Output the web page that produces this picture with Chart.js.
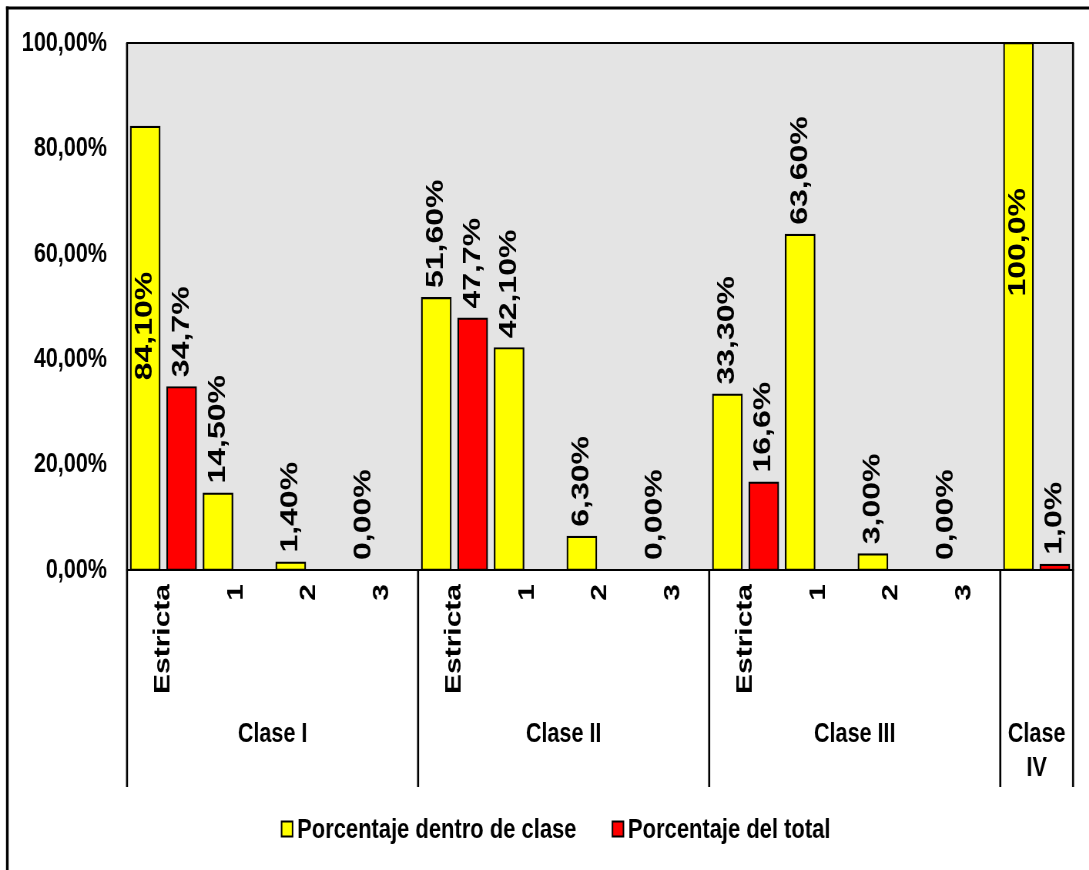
<!DOCTYPE html>
<html>
<head>
<meta charset="utf-8">
<script src="https://cdn.jsdelivr.net/npm/chart.js@4/dist/chart.umd.min.js"></script>
<style>
  html, body { margin: 0; padding: 0; background: #fff; overflow: hidden; width: 1089px; height: 870px; }
  /* the drawing is laid out on a wider canvas and condensed horizontally */
  #wrap { position: absolute; left: 0; top: 0; width: 1414px; height: 870px; transform: scaleX(0.7702); transform-origin: 0 0; }
  canvas { display: block; }
</style>
</head>
<body>
<div id="wrap"><canvas id="chart" width="1414" height="870"></canvas></div>
<script>
// Sub-categories (one bar slot each) and the class groups they belong to
const categories = ['Estricta', '1', '2', '3', 'Estricta', '1', '2', '3', 'Estricta', '1', '2', '3', ''];
const groupNames = [['Clase I'], ['Clase II'], ['Clase III'], ['Clase', 'IV']];
const groupSizes = [4, 4, 4, 1];

// Series values (%)
const dentroDeClase = [84.1, 14.5, 1.4, 0, 51.6, 42.1, 6.3, 0, 33.3, 63.6, 3.0, 0, 100];
const delTotal = [34.7, null, null, null, 47.7, null, null, null, 16.6, null, null, null, 1.0];

const seriesNames = ['Porcentaje dentro de clase', 'Porcentaje del total'];
const seriesColors = ['#ffff00', '#ff0000'];

// Value axis ticks (%)
const yTicks = [0, 20, 40, 60, 80, 100];

const FONT = '"Liberation Sans", Arial, Helvetica, sans-serif';
const SX = 1 / 0.7702; // horizontal widening factor for vertical strokes

function pct(v, decimals) {
  return v.toFixed(decimals).replace('.', ',') + '%';
}
function labelText(v, datasetIndex) {
  if (datasetIndex === 0) return pct(v, v >= 100 ? 1 : 2);
  return pct(v, 1);
}

const framePlugin = {
  id: 'frame',
  beforeDraw(chart) {
    const { ctx, chartArea: a, width, height } = chart;
    ctx.save();
    ctx.fillStyle = '#ffffff';
    ctx.fillRect(0, 0, width, height);
    ctx.fillStyle = '#e4e4e4';
    ctx.fillRect(a.left, a.top, a.right - a.left, a.bottom - a.top);
    ctx.restore();
  },
  afterDatasetsDraw(chart) {
    const { ctx, chartArea: a, scales } = chart;
    const x = scales.x;
    ctx.save();
    ctx.strokeStyle = '#000';
    ctx.lineCap = 'square';
    // horizontal edges of the plot
    ctx.lineWidth = 2;
    ctx.beginPath();
    ctx.moveTo(a.left, a.top); ctx.lineTo(a.right, a.top);
    ctx.moveTo(a.left, a.bottom); ctx.lineTo(a.right, a.bottom);
    ctx.stroke();
    // vertical edges, extended through the category area at group borders
    ctx.lineWidth = 2 * SX;
    ctx.lineCap = 'butt';
    const step = (x.getPixelForValue(1) - x.getPixelForValue(0));
    const lowY = x.bottom;
    ctx.beginPath();
    ctx.moveTo(a.left, a.top); ctx.lineTo(a.left, lowY);
    ctx.moveTo(a.right, a.top); ctx.lineTo(a.right, lowY);
    let idx = 0;
    groupSizes.forEach((n, g) => {
      idx += n;
      if (g < groupSizes.length - 1) {
        const px = x.getPixelForValue(idx) - step / 2;
        ctx.moveTo(px, a.bottom); ctx.lineTo(px, lowY);
      }
    });
    ctx.stroke();

    // group names under the sub-category labels
    ctx.fillStyle = '#000';
    ctx.font = 'bold 28px ' + FONT;
    ctx.textAlign = 'center';
    ctx.textBaseline = 'middle';
    idx = 0;
    groupSizes.forEach((n, g) => {
      const left = x.getPixelForValue(idx) - step / 2;
      const right = x.getPixelForValue(idx + n - 1) + step / 2;
      const cx = (left + right) / 2;
      groupNames[g].forEach((line, li) => {
        ctx.fillText(line, cx, 734 + li * 34);
      });
      idx += n;
    });

    // value labels, rotated, above each bar (inside when there is no room)
    ctx.font = 'bold 32px ' + FONT;
    ctx.textAlign = 'left';
    chart.data.datasets.forEach((ds, di) => {
      const meta = chart.getDatasetMeta(di);
      meta.data.forEach((bar, i) => {
        const v = ds.data[i];
        if (v === null || v === undefined) return;
        const text = labelText(v, di);
        const w = ctx.measureText(text).width;
        let start = bar.y - 10;
        if (start - w < a.top) start = bar.y + 145 + w;
        ctx.save();
        ctx.translate(bar.x, start);
        ctx.rotate(-Math.PI / 2);
        ctx.fillText(text, 0, 0);
        ctx.restore();
      });
    });
    ctx.restore();
  },
  afterDraw(chart) {
    const { ctx, width, height } = chart;
    ctx.save();
    // outer chart border (top and left edges)
    ctx.fillStyle = '#000';
    ctx.fillRect(6 * SX, 6.5, width, 3);
    ctx.fillRect(6 * SX, 6.5, 2.6 * SX, height);

    // legend
    ctx.font = 'bold 28.5px ' + FONT;
    ctx.textBaseline = 'middle';
    ctx.textAlign = 'left';
    const boxW = 11 * SX, boxH = 15, gap = 4.5 * SX, spacing = 36 * SX;
    const widths = seriesNames.map(t => ctx.measureText(t).width);
    const total = widths.reduce((s, w) => s + boxW + gap + w, 0) + spacing;
    let cx = 556 * SX - total / 2;
    const cy = 829;
    seriesNames.forEach((t, i) => {
      ctx.fillStyle = seriesColors[i];
      ctx.fillRect(cx, cy - boxH / 2, boxW, boxH);
      ctx.strokeStyle = '#000';
      ctx.lineWidth = 2;
      ctx.strokeRect(cx, cy - boxH / 2, boxW, boxH);
      ctx.fillStyle = '#000';
      ctx.fillText(t, cx + boxW + gap, cy + 1);
      cx += boxW + gap + widths[i] + spacing;
    });
    ctx.restore();
  }
};

const barStyle = {
  borderColor: '#000',
  borderWidth: 2.2,
  borderSkipped: false,
  inflateAmount: 1,
  categoryPercentage: 1.0,
  barPercentage: 0.8
};

new Chart(document.getElementById('chart'), {
  type: 'bar',
  data: {
    labels: categories,
    datasets: [
      Object.assign({ label: seriesNames[0], data: dentroDeClase, backgroundColor: seriesColors[0] }, barStyle),
      Object.assign({ label: seriesNames[1], data: delTotal, backgroundColor: seriesColors[1] }, barStyle)
    ]
  },
  options: {
    responsive: false,
    animation: false,
    devicePixelRatio: 1,
    layout: { padding: { left: 20, right: 20.8, top: 43, bottom: 83 } },
    plugins: {
      legend: { display: false },
      tooltip: { enabled: false }
    },
    scales: {
      x: {
        type: 'category',
        offset: true,
        grid: { display: false, drawTicks: false },
        border: { display: false },
        ticks: {
          autoSkip: false,
          minRotation: 90,
          maxRotation: 90,
          padding: 14,
          color: '#000',
          font: { family: FONT, size: 30, weight: 'bold' }
        },
        afterFit(scale) { scale.height = 217; }
      },
      y: {
        min: 0,
        max: 100,
        afterBuildTicks(scale) { scale.ticks = yTicks.map(v => ({ value: v })); },
        grid: { display: false, drawTicks: false },
        border: { display: false },
        ticks: {
          padding: 26,
          color: '#000',
          font: { family: FONT, size: 28, weight: 'bold' },
          callback: (v) => pct(v, 2)
        },
        afterFit(scale) { scale.width = 164.9 - 20; }
      }
    }
  },
  plugins: [framePlugin]
});
</script>
</body>
</html>
